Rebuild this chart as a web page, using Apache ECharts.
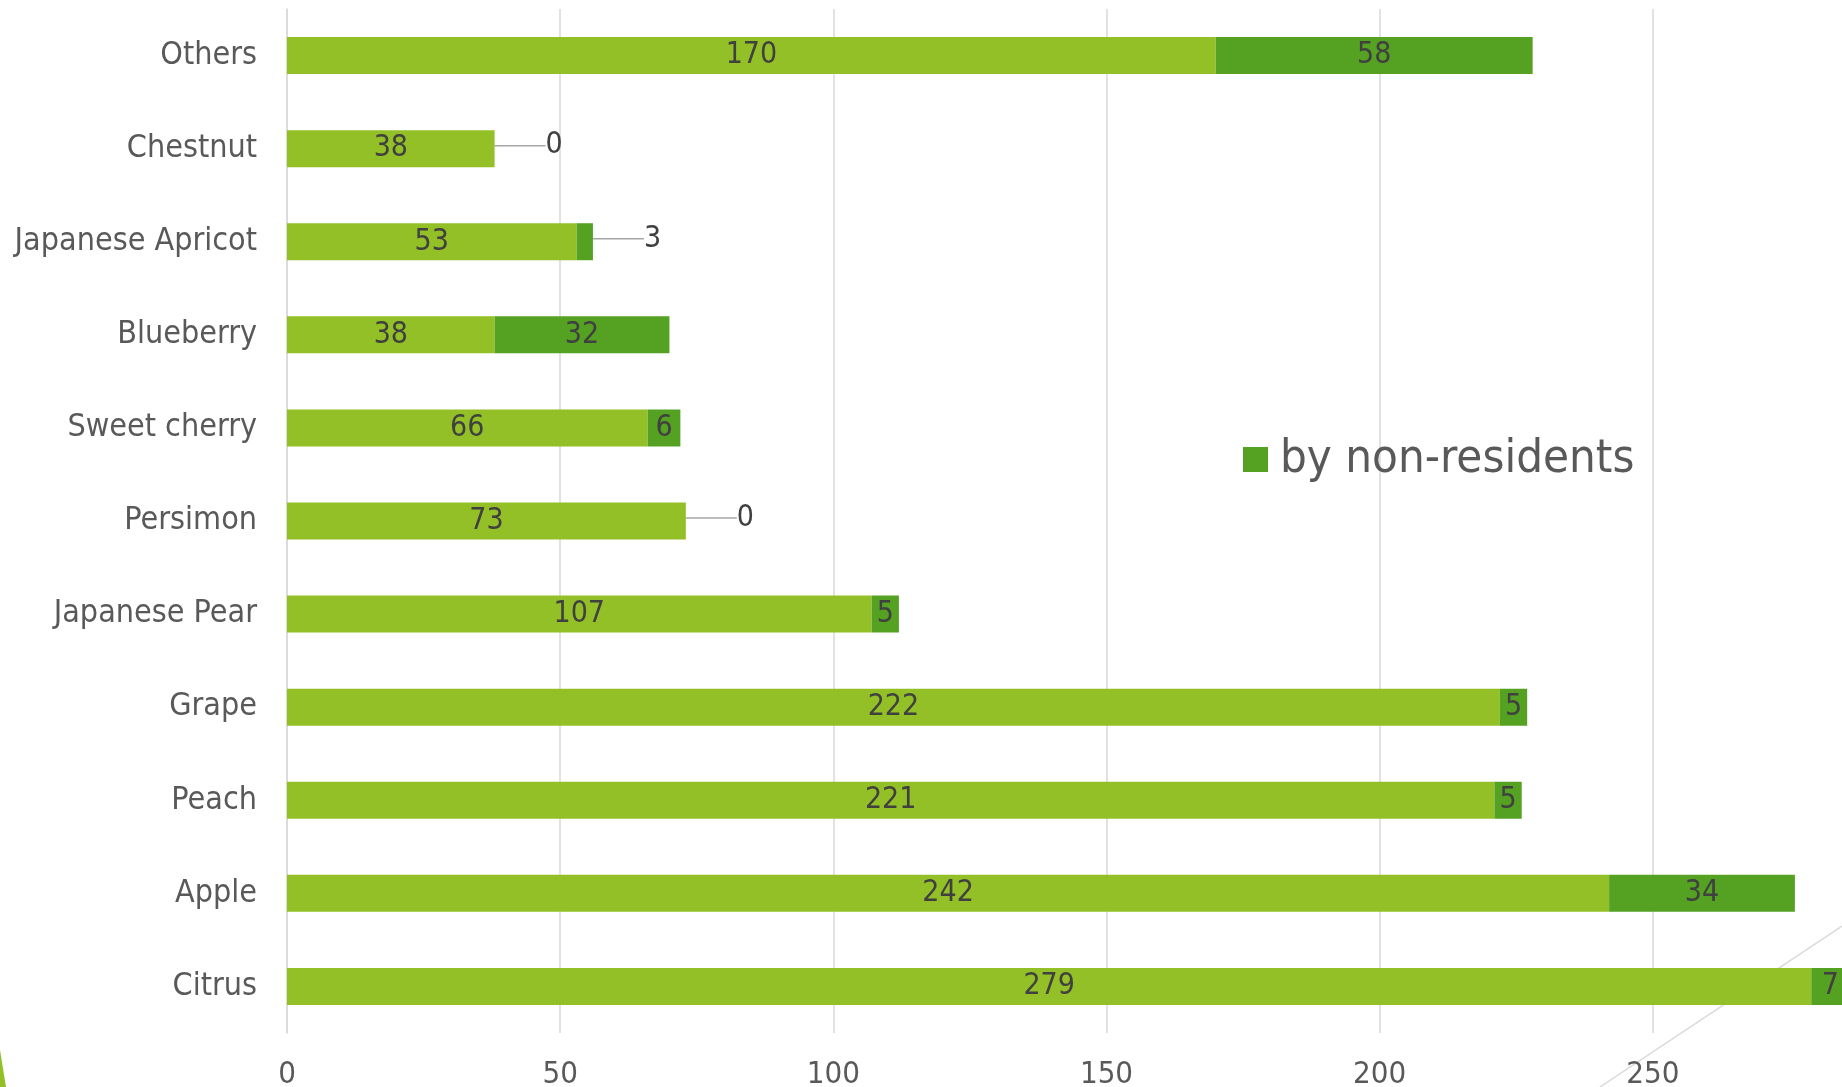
<!DOCTYPE html>
<html>
<head>
<meta charset="utf-8">
<script src="https://cdn.jsdelivr.net/npm/echarts@6/dist/echarts.min.js"></script>
<style>
html,body{margin:0;padding:0;background:#fff;}
#c{width:1842px;height:1087px;}
</style>
</head>
<body>
<div id="c"></div>
<script>
const categories = ['Citrus','Apple','Peach','Grape','Japanese Pear','Persimon','Sweet cherry','Blueberry','Japanese Apricot','Chestnut','Others'];
const byResidents = [279,242,221,222,107,73,66,38,53,38,170];
const byNonResidents = [7,34,5,5,5,0,6,32,3,0,58];
const seriesNames = ['by residents','by non-residents'];
const calloutIdx = [5,8,9];

const FONT = '"Liberation Sans Narrow", "DejaVu Sans Condensed", sans-serif';
const chart = echarts.init(document.getElementById('c'), null, {renderer:'canvas'});

const nonResData = byNonResidents.map((v,i)=>{
  if (calloutIdx.indexOf(i) >= 0) {
    return {value:v, label:{position:'right', padding:[0,0,0,7]}, labelLine:{show:true}};
  }
  return v;
});

chart.setOption({
  backgroundColor:'#fff',
  animation:false,
  textStyle:{fontFamily:FONT},
  grid:{left:287, top:9, width:1639, height:1024, containLabel:false, outerBoundsMode:'none'},
  legend:{
    data:['by non-residents'],
    left:1238, top:431,
    itemWidth:25, itemHeight:25, itemGap:10,
    icon:'rect',
    textStyle:{fontFamily:FONT, fontSize:47, color:'#595959', padding:[0,0,0,7]}
  },
  xAxis:{
    type:'value', min:0, max:300, interval:50,
    axisLine:{show:false}, axisTick:{show:false},
    splitLine:{show:true, lineStyle:{color:'#D9D9D9', width:1.5}},
    axisLabel:{fontFamily:FONT, fontSize:31, color:'#595959', margin:26}
  },
  yAxis:{
    type:'category', data:categories,
    axisLine:{show:true, lineStyle:{color:'#D9D9D9', width:1.5}},
    axisTick:{show:false},
    axisLabel:{fontFamily:FONT, fontSize:32, color:'#595959', margin:30}
  },
  series:[
    {
      name:seriesNames[0], type:'bar', stack:'t', barWidth:37,
      data:byResidents,
      itemStyle:{color:'#92C026'},
      label:{show:true, position:'inside', fontFamily:FONT, fontSize:30, color:'#404040'}
    },
    {
      name:seriesNames[1], type:'bar', stack:'t', barWidth:37,
      data:nonResData,
      itemStyle:{color:'#55A122'},
      label:{show:true, position:'inside', fontFamily:FONT, fontSize:30, color:'#404040'},
      labelLine:{show:false, lineStyle:{color:'#A6A6A6', width:1.5}, length2:14},
      labelLayout:function(p){
        if (calloutIdx.indexOf(p.dataIndex) >= 0) {
          return {dx:39, dy:-3};
        }
        return {};
      }
    }
  ],
  graphic:[
    {type:'line', silent:true, shape:{x1:1600, y1:1087, x2:1842, y2:926}, style:{stroke:'#D9D9D9', lineWidth:1.5}},
    {type:'polygon', silent:true, shape:{points:[[0,1050],[6,1087],[0,1087]]}, style:{fill:'#92C026'}}
  ]
});
</script>
</body>
</html>
